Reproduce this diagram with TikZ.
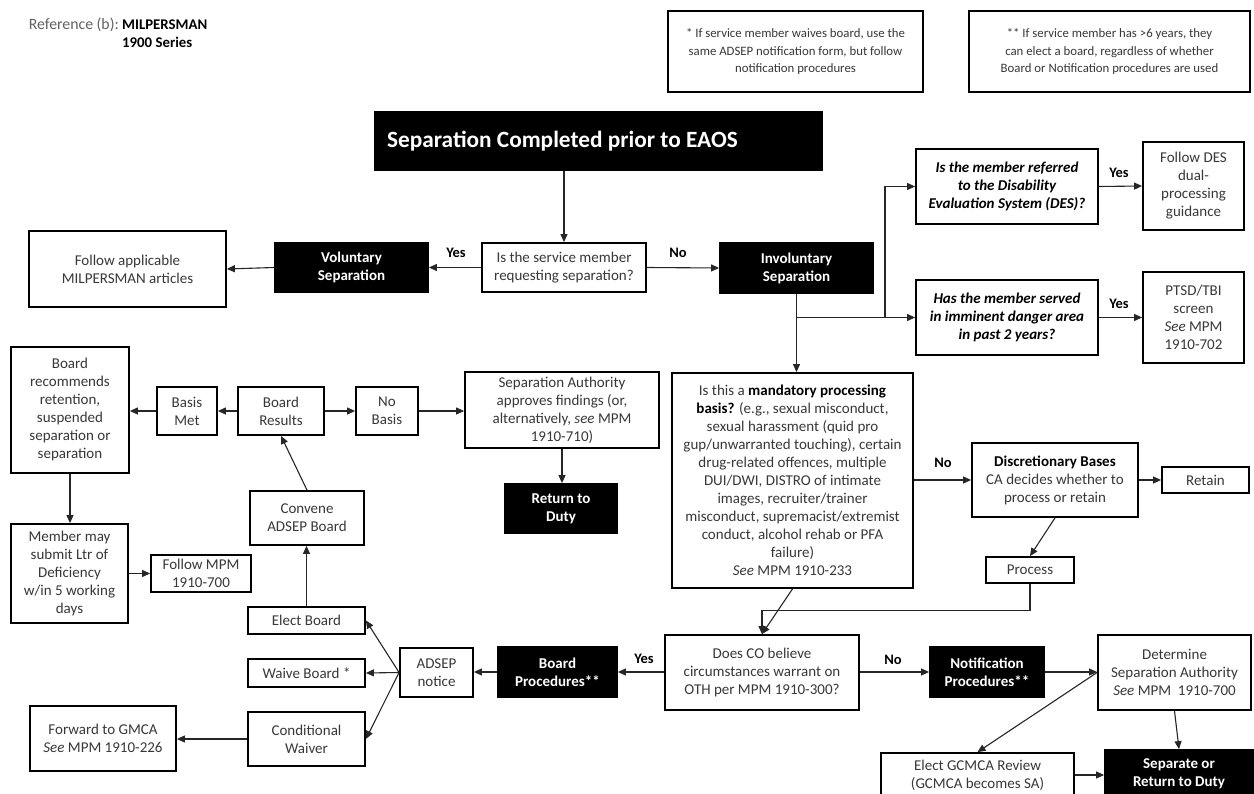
\documentclass[tikz,border=0pt]{standalone}
\usepackage{fontspec}
\setmainfont{Carlito}
\usetikzlibrary{arrows.meta,calc}
\definecolor{txt}{rgb}{0.22,0.22,0.22}
\definecolor{reftxt}{rgb}{0.38,0.38,0.38}
\tikzset{
  box/.style={draw=black, line width=1.8pt, fill=white, inner sep=0pt, align=center,
    text=txt, font=\fontsize{15}{18}\selectfont},
  darkbox/.style={draw=black, line width=1.8pt, fill=black, inner sep=0pt, align=center,
    text=white, font=\fontsize{15}{18}\selectfont\bfseries},
  notebox/.style={box, font=\fontsize{12.8}{17.5}\selectfont},
  arr/.style={draw=black!85, line width=1.1pt, -{Triangle[length=8pt,width=7pt]}},
  link/.style={draw=black!85, line width=1.1pt},
  lbl/.style={font=\fontsize{14.5}{16}\selectfont\bfseries, text=black, inner sep=0pt},
}
\begin{document}
\begin{tikzpicture}[x=1pt,y=-1pt]
\useasboundingbox (0,0) rectangle (1254,794);
\fill[white] (0,0) rectangle (1254,794);

% heading reference
\node[anchor=base east, inner sep=0pt, text=reftxt, font=\fontsize{15.8}{17}\selectfont] (reflabel) at (119,30)
  {Reference (b):};
\node[anchor=base west, inner sep=0pt, font=\fontsize{14.8}{17}\selectfont\bfseries] (refname) at (122,30)
  {MILPERSMAN};
\node[anchor=base west, inner sep=0pt, font=\fontsize{14.8}{17}\selectfont\bfseries] (refseries) at (122,48)
  {1900 Series};

% footnote boxes
\node[notebox, minimum width=255pt, minimum height=81pt] (note1) at (795.5,51.5)
  {* If service member waives board, use the\\same ADSEP notification form, but follow\\notification procedures};
\node[notebox, minimum width=281pt, minimum height=81pt] (note2) at (1109.5,51.5)
  {** If service member has >6 years, they\\can elect a board, regardless of whether\\Board or Notification procedures are used};

% title
\node[darkbox, minimum width=447pt, minimum height=58pt] (title) at (598.5,141) {};
\node[anchor=west, inner sep=0pt, text=white, font=\fontsize{23.3}{26}\selectfont\bfseries] (titletext) at (387,141)
  {Separation Completed prior to EAOS};

% first decision
\node[box, minimum width=164pt, minimum height=49pt] (request) at (564,267.5)
  {Is the service member\\requesting separation?};
\node[darkbox, minimum width=153pt, minimum height=50pt] (invol) at (796.5,268)
  {Involuntary\\Separation};
\node[darkbox, minimum width=153pt, minimum height=49pt] (vol) at (351.5,267.5)
  {Voluntary\\Separation};
\node[box, minimum width=197pt, minimum height=76pt] (follow) at (127.5,269)
  {Follow applicable\\MILPERSMAN articles};

% DES and danger-area screens
\node[box, minimum width=182pt, minimum height=75pt, text=black, font=\fontsize{15}{18}\selectfont\bfseries\itshape] (des) at (1007,186.5)
  {Is the member referred\\to the Disability\\Evaluation System (DES)?};
\node[box, minimum width=101pt, minimum height=88pt] (desfollow) at (1193.5,186)
  {Follow DES\\dual-\\processing\\guidance};
\node[box, minimum width=182pt, minimum height=75pt, text=black, font=\fontsize{15}{18}\selectfont\bfseries\itshape] (danger) at (1007,317.5)
  {Has the member served\\in imminent danger area\\in past 2 years?};
\node[box, minimum width=101pt, minimum height=91pt] (ptsd) at (1193.5,317.5)
  {PTSD/TBI\\screen\\\textit{See} MPM\\1910-702};

% board results chain
\node[box, minimum width=118pt, minimum height=126pt] (recommends) at (70,410)
  {Board\\recommends\\retention,\\suspended\\separation or\\separation};
\node[box, minimum width=60pt, minimum height=48pt] (basismet) at (187,411)
  {Basis\\Met};
\node[box, minimum width=86pt, minimum height=48pt] (results) at (281,411)
  {Board\\Results};
\node[box, minimum width=62pt, minimum height=48pt] (nobasis) at (387,411)
  {No\\Basis};
\node[box, minimum width=194pt, minimum height=76pt] (sepauth) at (562,410)
  {Separation Authority\\approves findings (or,\\alternatively, \textit{see} MPM\\1910-710)};
\node[darkbox, minimum width=112pt, minimum height=49pt] (rtd) at (561,508.5)
  {Return to\\Duty};

% mandatory processing question
\node[box, minimum width=241pt, minimum height=215pt] (mandatory) at (792.5,480.5)
  {Is this a \textbf{\textcolor{black}{mandatory processing}}\\\textbf{\textcolor{black}{basis?}} (e.g., sexual misconduct,\\sexual harassment (quid pro\\gup/unwarranted touching), certain\\drug-related offences, multiple\\DUI/DWI, DISTRO of intimate\\images, recruiter/trainer\\misconduct, supremacist/extremist\\conduct, alcohol rehab or PFA\\failure)\\\textit{See} MPM 1910-233};
\node[box, minimum width=166pt, minimum height=74pt] (discretionary) at (1055,480)
  {\textbf{\textcolor{black}{Discretionary Bases}}\\CA decides whether to\\process or retain};
\node[box, minimum width=87pt, minimum height=26pt] (retain) at (1205.5,480) {Retain};
\node[box, minimum width=88pt, minimum height=26pt] (process) at (1030,570) {Process};

% board procedure options
\node[box, minimum width=114pt, minimum height=54pt] (convene) at (307,518)
  {Convene\\ADSEP Board};
\node[box, minimum width=117pt, minimum height=99pt] (member) at (69.5,573.5)
  {Member may\\submit Ltr of\\Deficiency\\w/in 5 working\\days};
\node[box, minimum width=100pt, minimum height=37pt] (follow700) at (201,573.5)
  {Follow MPM\\1910-700};
\node[box, minimum width=117pt, minimum height=27pt] (elect) at (306.5,620.5) {Elect Board};
\node[box, minimum width=117pt, minimum height=28pt] (waive) at (306.5,673) {Waive Board *};
\node[box, minimum width=117pt, minimum height=54pt] (condwaiver) at (306.5,739)
  {Conditional\\Waiver};
\node[box, minimum width=146pt, minimum height=65pt] (gmca) at (103,738.5)
  {Forward to GMCA\\\textit{See} MPM 1910-226};
\node[box, minimum width=73pt, minimum height=49pt] (adsep) at (436.5,672.5)
  {ADSEP\\notice};
\node[darkbox, minimum width=119pt, minimum height=50pt] (boardproc) at (557.5,672)
  {Board\\Procedures**};

% OTH decision and notification path
\node[box, minimum width=194pt, minimum height=75pt] (doesco) at (762,672.5)
  {Does CO believe\\circumstances warrant on\\OTH per MPM 1910-300?};
\node[darkbox, minimum width=114pt, minimum height=50pt] (notif) at (987,672)
  {Notification\\Procedures**};
\node[box, minimum width=153pt, minimum height=75pt] (determine) at (1174.5,672.5)
  {Determine\\Separation Authority\\\textit{See} MPM~~1910-700};
\node[box, minimum width=193pt, minimum height=44pt] (gcmcareview) at (977.5,775)
  {Elect GCMCA Review\\(GCMCA becomes SA)};
\node[darkbox, minimum width=148pt, minimum height=47pt] (separate) at (1179,773.5)
  {Separate or\\Return to Duty};

% branch labels
\node[lbl] (yes1) at (456,253) {Yes};
\node[lbl] (no1) at (678,253) {No};
\node[lbl] (yes2) at (1119,173) {Yes};
\node[lbl] (yes3) at (1119,304) {Yes};
\node[lbl] (no2) at (943,463) {No};
\node[lbl] (yes4) at (644,659) {Yes};
\node[lbl] (no3) at (893,660) {No};

% connectors
\draw[arr] (request.north |- title.south) -- (request.north);
\draw[arr] (request.west) -- (vol.east);
\draw[arr] (vol.west) -- (follow.east);
\draw[arr] (request.east) -- (invol.west);
\draw[arr] (invol.south) -- (invol.south |- mandatory.north);
\coordinate (fork) at (885,317.5);
\draw[link] (invol.south |- fork) -- (fork);
\draw[arr] (fork) -- (danger.west);
\draw[arr] (fork) |- (des.west);
\draw[arr] (des.east) -- (desfollow.west);
\draw[arr] (danger.east) -- (ptsd.west);

\draw[arr] (results.west) -- (basismet.east);
\draw[arr] (basismet.west) -- (recommends.east |- basismet.west);
\draw[arr] (results.east) -- (nobasis.west);
\draw[arr] (nobasis.east) -- (sepauth.west |- nobasis.east);
\draw[arr] (sepauth.south) -- (sepauth.south |- rtd.north);
\draw[arr] (convene.north) -- (results.south);
\draw[arr] (elect.north) -- (elect.north |- convene.south);
\draw[arr] (recommends.south) -- (recommends.south |- member.north);
\draw[arr] (member.east) -- (follow700.west);

\draw[arr] (adsep.west) -- (elect.east);
\draw[arr] (adsep.west) -- (waive.east);
\draw[arr] (adsep.west) -- (condwaiver.east);
\draw[arr] (condwaiver.west) -- (gmca.east |- condwaiver.west);
\draw[arr] (boardproc.west) -- (adsep.east |- boardproc.west);
\draw[arr] (doesco.west |- boardproc.east) -- (boardproc.east);
\draw[arr] (doesco.east |- notif.west) -- (notif.west);
\draw[arr] (notif.east) -- (determine.west |- notif.east);
\draw[arr] (determine.west) -- (gcmcareview.north);
\draw[arr] (determine.south) -- (separate.north);
\draw[arr] (gcmcareview.east) -- (separate.west |- gcmcareview.east);

\draw[arr] (mandatory.south) -- (doesco.north);
\draw[arr] (process.south) -- ++(0,27) -| (doesco.north);
\draw[arr] (mandatory.east |- discretionary.west) -- (discretionary.west);
\draw[arr] (discretionary.east) -- (retain.west);
\draw[arr] (discretionary.south) -- (process.north);
\end{tikzpicture}
\end{document}
